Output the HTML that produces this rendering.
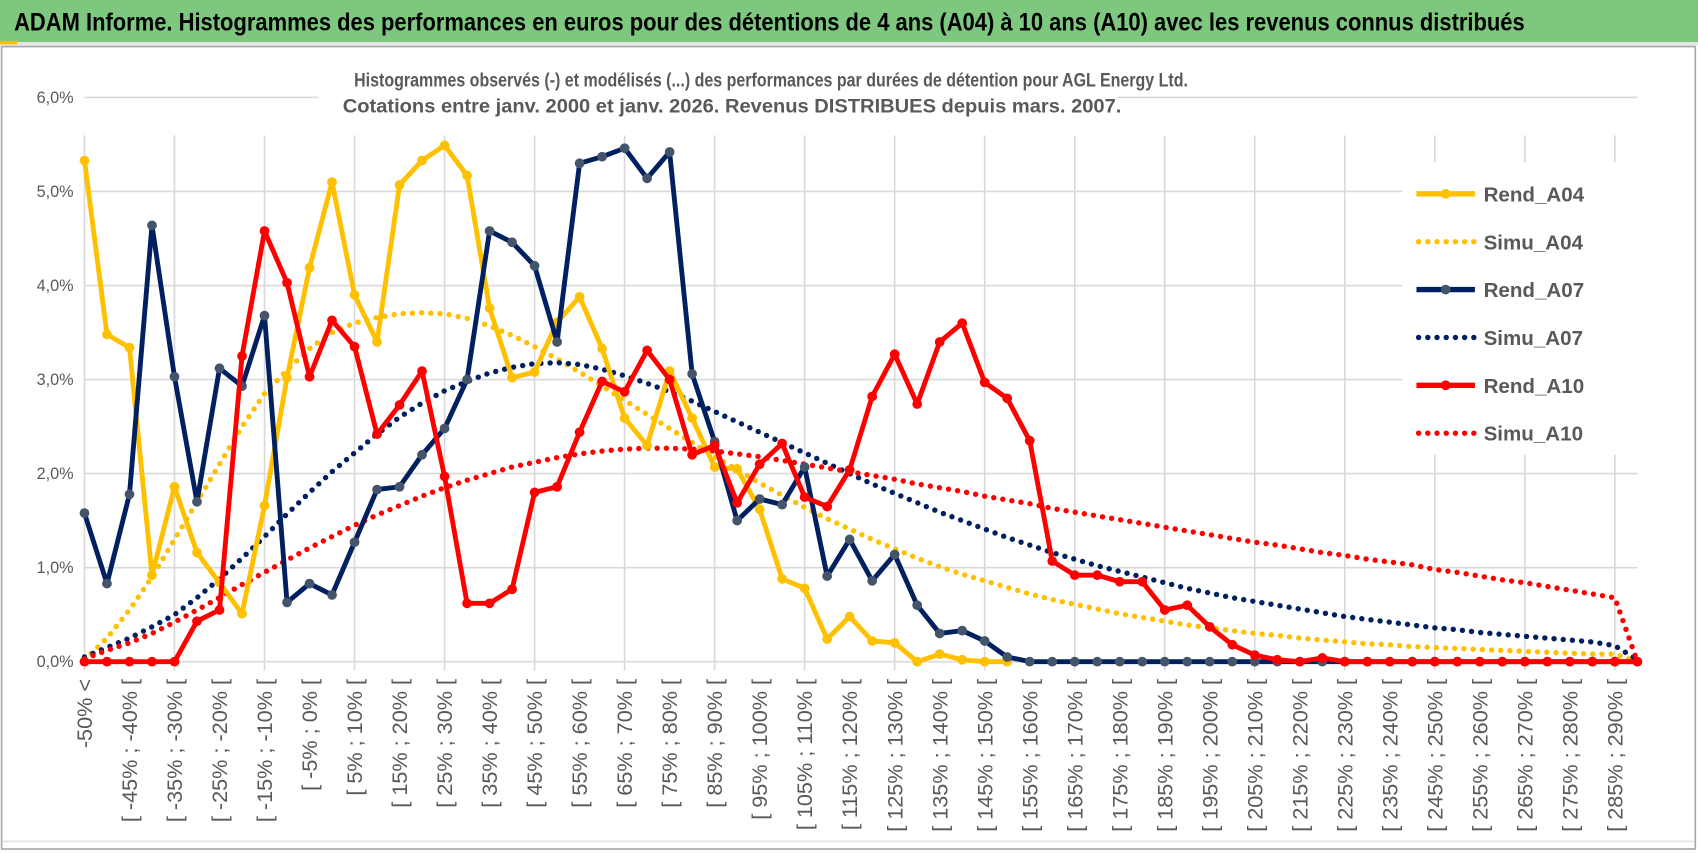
<!DOCTYPE html>
<html><head><meta charset="utf-8"><style>
html,body{margin:0;padding:0;background:#fff;}
svg{display:block;}
</style></head><body>
<svg id="chart" width="1698" height="854" viewBox="0 0 1698 854" xmlns="http://www.w3.org/2000/svg" font-family="'Liberation Sans Narrow','Liberation Sans',sans-serif">
<rect x="0" y="0" width="1698" height="854" fill="#fff"/>
<g transform="scale(1.08291)">
<rect x="0" y="0" width="1568" height="39" fill="#7ec77e"/>
<rect x="0" y="39" width="1568" height="3" fill="#e6e6e6"/>
<rect x="0" y="38" width="16" height="3" fill="#ffc000"/>
<text x="13" y="28" font-size="23" font-weight="bold" fill="#000" textLength="1395" lengthAdjust="spacingAndGlyphs">ADAM Informe. Histogrammes des performances en euros pour des détentions de 4 ans (A04) à 10 ans (A10) avec les revenus connus distribués</text>
<rect x="1.5" y="43" width="1564" height="741" fill="none" stroke="#a6a6a6" stroke-width="1.5"/>
<line x1="2" x2="1565" y1="777" y2="777" stroke="#e0e0e0" stroke-width="1.5"/>
<g id="grid"></g>
<rect x="294" y="56" width="738" height="56" fill="#fff"/>
<text x="712" y="80" text-anchor="middle" font-size="18" font-weight="bold" fill="#595959" font-family="'Liberation Sans',sans-serif" textLength="770" lengthAdjust="spacingAndGlyphs">Histogrammes observés (-) et modélisés (...) des performances par durées de détention pour AGL Energy Ltd.</text>
<text x="676" y="104" text-anchor="middle" font-size="18" font-weight="bold" fill="#595959" font-family="'Liberation Sans',sans-serif" textLength="719" lengthAdjust="spacingAndGlyphs">Cotations entre janv. 2000 et janv. 2026. Revenus DISTRIBUES depuis mars. 2007.</text>
<g id="yaxis"></g>
<g id="xaxis"></g>
<g id="series"></g>
<g id="legend"></g>
</g>
</svg>
<script>
const yTicks = [0,1,2,3,4,5,6];
const yTickLabels = ["0,0%","1,0%","2,0%","3,0%","4,0%","5,0%","6,0%"];
const categories = ["-50% <"];
for (let k = 1; k < 70; k++) { categories.push("[ " + (-55 + 5*k) + "% ; " + (-50 + 5*k) + "% ["); }

const rendA04 = [5.33,3.48,3.34,0.92,1.86,1.16,0.84,0.51,1.66,3.02,4.19,5.1,3.9,3.4,5.07,5.33,5.49,5.17,3.76,3.02,3.08,3.61,3.88,3.33,2.59,2.3,3.09,2.59,2.07,2.05,1.62,0.88,0.78,0.24,0.48,0.22,0.2,0.0,0.08,0.02,0.0,0.0];
const simuA04 = [0.02,0.25,0.55,0.9,1.3,1.7,2.1,2.5,2.85,3.1,3.33,3.5,3.6,3.66,3.7,3.71,3.7,3.65,3.57,3.47,3.35,3.22,3.08,2.93,2.78,2.63,2.48,2.33,2.18,2.04,1.9,1.77,1.64,1.52,1.41,1.3,1.2,1.1,1.01,0.93,0.86,0.79,0.72,0.66,0.61,0.56,0.51,0.47,0.43,0.39,0.36,0.33,0.3,0.28,0.25,0.23,0.21,0.19,0.18,0.16,0.15,0.14,0.13,0.12,0.11,0.1,0.09,0.08,0.08,0.0];
const rendA07 = [1.58,0.83,1.78,4.64,3.03,1.7,3.12,2.93,3.68,0.63,0.83,0.71,1.27,1.83,1.86,2.2,2.48,3.0,4.58,4.46,4.21,3.4,5.3,5.37,5.46,5.14,5.42,3.06,2.34,1.5,1.73,1.67,2.07,0.91,1.3,0.86,1.14,0.6,0.3,0.33,0.22,0.05,0,0,0,0,0,0,0,0,0,0,0,0,0,0,0,0,0,0,0,0,0,0,0,0,0,0,0,0];
const simuA07 = [0.05,0.15,0.25,0.37,0.5,0.68,0.88,1.1,1.33,1.57,1.8,2.02,2.22,2.42,2.6,2.75,2.88,2.98,3.07,3.13,3.17,3.18,3.16,3.11,3.04,2.96,2.87,2.77,2.66,2.55,2.44,2.33,2.22,2.11,2.0,1.89,1.79,1.69,1.59,1.5,1.41,1.32,1.24,1.16,1.09,1.02,0.96,0.9,0.84,0.78,0.73,0.68,0.64,0.6,0.56,0.52,0.48,0.45,0.42,0.39,0.36,0.34,0.31,0.29,0.27,0.25,0.23,0.21,0.17,0.02];
const rendA10 = [0,0,0,0,0,0.43,0.55,3.25,4.58,4.03,3.03,3.63,3.35,2.42,2.73,3.09,1.97,0.62,0.62,0.77,1.8,1.86,2.44,2.98,2.87,3.31,3.0,2.2,2.3,1.69,2.1,2.32,1.75,1.65,2.04,2.82,3.27,2.74,3.4,3.6,2.97,2.8,2.35,1.07,0.92,0.92,0.85,0.85,0.55,0.6,0.37,0.18,0.07,0.02,0.0,0.04,0,0,0,0,0,0,0,0,0,0,0,0,0,0];
const simuA10 = [0.03,0.12,0.2,0.3,0.42,0.55,0.68,0.82,0.95,1.08,1.21,1.33,1.45,1.56,1.66,1.76,1.85,1.93,2.0,2.07,2.12,2.17,2.21,2.24,2.26,2.27,2.27,2.26,2.24,2.21,2.18,2.14,2.1,2.06,2.02,1.98,1.94,1.89,1.85,1.81,1.76,1.72,1.68,1.63,1.59,1.55,1.51,1.47,1.43,1.39,1.35,1.31,1.27,1.24,1.2,1.16,1.13,1.09,1.06,1.03,0.98,0.95,0.91,0.87,0.84,0.8,0.76,0.72,0.68,0.0];
const seriesNames = ["Rend_A04","Simu_A04","Rend_A07","Simu_A07","Rend_A10","Simu_A10"];

const NS = "http://www.w3.org/2000/svg";
const X0 = 78, X1 = 1512, Y0 = 611, Y6 = 90;
const N = categories.length;
function xs(i){ return X0 + i*(X1-X0)/(N-1); }
function ys(v){ return Y0 - v*(Y0-Y6)/6; }
function mk(tag, attrs, parent){ const e=document.createElementNS(NS,tag); for(const k in attrs) e.setAttribute(k,attrs[k]); parent.appendChild(e); return e; }

const grid = document.getElementById('grid');
yTicks.forEach(v=>{
  const l = mk('line',{x1:X0,x2:X1,y1:ys(v),y2:ys(v),stroke:'#d9d9d9','stroke-width':1.5},grid);
  
  
});
for(let i=0;i<N;i+=4){
  const l = mk('line',{x1:xs(i),x2:xs(i),y1:ys(6)+35,y2:Y0+8,stroke:'#d9d9d9','stroke-width':1.5},grid);
  
  
}
const yax = document.getElementById('yaxis');
yTicks.forEach((v,k)=>{
  const t = mk('text',{x:68,y:ys(v)+5,'text-anchor':'end','font-size':15,fill:'#595959'},yax);
  t.textContent = yTickLabels[k];
  
  
});
const xax = document.getElementById('xaxis');
for(let i=0;i<N-1;i+=2){
  const x = xs(i)+7, y = 627;
  const t = mk('text',{x:x,y:y,'text-anchor':'end','font-size':20,fill:'#595959','font-family':"'Liberation Sans',sans-serif",transform:`rotate(-90 ${x} ${y})`},xax);
  t.textContent = categories[i];
  
  
}
const ser = document.getElementById('series');
function pts(arr){ return arr.map((v,i)=>xs(i)+','+ys(v)).join(' '); }
function dotted(arr,color,name){
  const p = mk('polyline',{points:pts(arr),fill:'none',stroke:color,'stroke-width':5,'stroke-linecap':'round','stroke-dasharray':'0 8.5'},ser);
  
  
}
function solid(arr,color,mcolor,name){
  const g = mk('g',{},ser);
  
  
  mk('polyline',{points:pts(arr),fill:'none',stroke:color,'stroke-width':4.5,'stroke-linejoin':'round'},g);
  arr.forEach((v,i)=>{
    const c = mk('circle',{cx:xs(i),cy:ys(v),r:4.5,fill:mcolor},g);
    
    
  });
}
dotted(simuA04,'#ffc000','simu-a04-line');
dotted(simuA07,'#002060','simu-a07-line');
dotted(simuA10,'#ff0000','simu-a10-line');
solid(rendA04,'#ffc000','#ffc000','rend-a04-line');
solid(rendA07,'#002060','#44546a','rend-a07-line');
solid(rendA10,'#ff0000','#ff0000','rend-a10-line');

const leg = document.getElementById('legend');
mk('rect',{x:1295,y:150,width:240,height:270,fill:'#fff'},leg);
const legColors = ['#ffc000','#ffc000','#002060','#002060','#ff0000','#ff0000'];
const legMarker = ['#ffc000',null,'#44546a',null,'#ff0000',null];
seriesNames.forEach((n,k)=>{
  const y = 179 + k*44.2;
  const g = mk('g',{},leg);
  
  
  if(legMarker[k]){
    mk('line',{x1:1308,x2:1362,y1:y,y2:y,stroke:legColors[k],'stroke-width':5},g);
    mk('circle',{cx:1335,cy:y,r:4.5,fill:legMarker[k]},g);
  } else {
    mk('line',{x1:1310,x2:1362,y1:y,y2:y,stroke:legColors[k],'stroke-width':5,'stroke-linecap':'round','stroke-dasharray':'0 8.5'},g);
  }
  const t = mk('text',{x:1370,y:y+7,'font-size':19,'font-weight':'bold',fill:'#595959'},g);
  t.textContent = n;
});
</script>
</body></html>
